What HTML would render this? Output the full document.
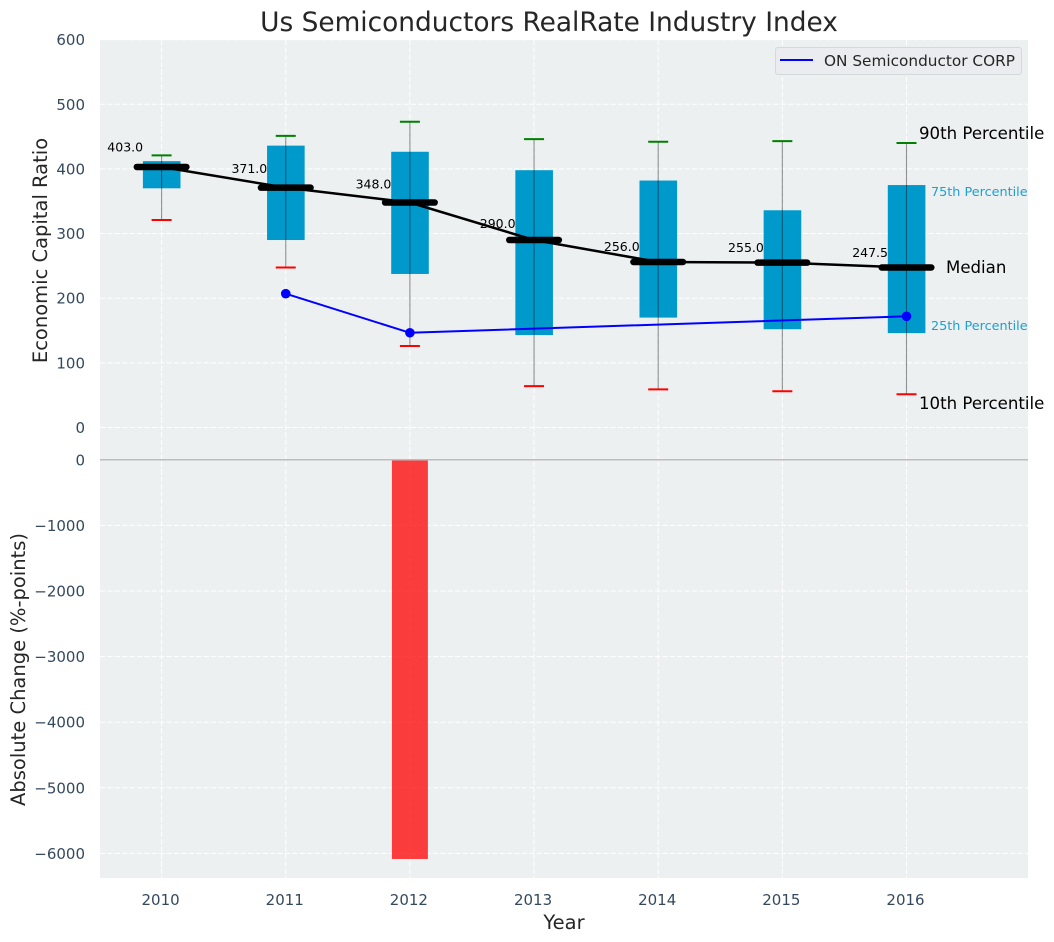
<!DOCTYPE html>
<html lang="en">
<head>
<meta charset="utf-8">
<title>Us Semiconductors RealRate Industry Index</title>
<style>
  html, body { margin: 0; padding: 0; background: #fff; }
  svg { display: block; font-family: "DejaVu Sans", "Liberation Sans", sans-serif; }
  .tick { font-size: 15px; fill: #34495e; }
  .axis-title { font-size: 19.5px; fill: #262626; }
  .median-value { font-size: 12.5px; fill: #000; }
  .big-note { font-size: 16.6px; fill: #000; }
  .small-note { font-size: 12.8px; fill: #1f9fcf; }
</style>
</head>
<body>
<svg id="chart" width="1054" height="942" viewBox="0 0 1054 942" xmlns="http://www.w3.org/2000/svg">
  <rect x="100" y="40" width="928" height="838" fill="#ecf0f1"/>
  <g id="grid"></g>
  <g id="bars"></g>
  <line x1="100" x2="1028" y1="459.8" y2="459.8" stroke="#bdbdbd" stroke-width="1.5"/>
  <g id="boxes"></g>
  <g id="medians"></g>
  <g id="company"></g>
  <g id="ticks"></g>

  <text x="549" y="31" text-anchor="middle" font-size="26.4" fill="#262626">Us Semiconductors RealRate Industry Index</text>
  <text class="axis-title" text-anchor="middle" transform="translate(47 250.5) rotate(-90)">Economic Capital Ratio</text>
  <text class="axis-title" text-anchor="middle" transform="translate(25 669.5) rotate(-90)">Absolute Change (%-points)</text>
  <text class="axis-title" x="564" y="929" text-anchor="middle">Year</text>

  <text class="big-note" x="919" y="139">90th Percentile</text>
  <text class="small-note" x="931" y="196">75th Percentile</text>
  <text class="big-note" x="946" y="273">Median</text>
  <text class="small-note" x="931" y="330">25th Percentile</text>
  <text class="big-note" x="919" y="409">10th Percentile</text>

  <g>
    <rect x="775.5" y="47.5" width="246" height="27" rx="2.5" fill="#eaecf0" stroke="#d5d8dc" stroke-width="1"/>
    <line x1="780" x2="813" y1="60" y2="60" stroke="#0000ff" stroke-width="2"/>
    <text x="824" y="66" font-size="15.3" fill="#262626">ON Semiconductor CORP</text>
  </g>
</svg>
<script>
const years = [2010, 2011, 2012, 2013, 2014, 2015, 2016];
const p90 = [421, 451, 473, 446, 442, 443, 440];
const p75 = [412, 436, 426.5, 398, 382, 336, 375];
const medianValues = [403, 371, 348, 290, 256, 255, 247.5];
const medianLabels = ['403.0', '371.0', '348.0', '290.0', '256.0', '255.0', '247.5'];
const p25 = [370, 290, 237.5, 143, 170, 152, 146];
const p10 = [321, 247.5, 126, 64, 59, 56, 51.5];
const companyValues = [null, 207, 146.5, null, null, null, 172];
const changeValues = [0, 0, -6085, 0, 0, 0, 0];
const topTicks = [0, 100, 200, 300, 400, 500, 600];
const bottomTicks = [0, -1000, -2000, -3000, -4000, -5000, -6000];

const NS = 'http://www.w3.org/2000/svg';
const xScale = function (year) { return 161.6 + 124.15 * (year - 2010); };
const yTop = function (v) { return 427.5 - 0.6465 * v; };
const yBottom = function (v) { return 459.8 - 0.0656 * v; };

function make(parent, tag, attrs) {
  const el = document.createElementNS(NS, tag);
  for (const k in attrs) el.setAttribute(k, attrs[k]);
  parent.appendChild(el);
  return el;
}

const grid = document.getElementById('grid');
const bars = document.getElementById('bars');
const boxes = document.getElementById('boxes');
const medians = document.getElementById('medians');
const company = document.getElementById('company');
const ticks = document.getElementById('ticks');
const gridDash = '5.2 2.2';

/* grid + ticks */
years.forEach(function (year) {
  const gx = make(grid, 'line', { x1: xScale(year), x2: xScale(year), y1: 40, y2: 878, stroke: '#fff', 'stroke-width': 1, 'stroke-dasharray': gridDash });
  
  
  const t = make(ticks, 'text', { x: xScale(year) - 1, y: 905, 'text-anchor': 'middle', class: 'tick' });
  t.textContent = String(year);
  
  
});
topTicks.forEach(function (v) {
  const gy = make(grid, 'line', { x1: 100, x2: 1028, y1: yTop(v), y2: yTop(v), stroke: '#fff', 'stroke-width': 1, 'stroke-dasharray': gridDash });
  
  
  const t = make(ticks, 'text', { x: 85, y: yTop(v) + 5.5, 'text-anchor': 'end', class: 'tick' });
  t.textContent = String(v);
  
  
});
bottomTicks.forEach(function (v) {
  const gy = make(grid, 'line', { x1: 100, x2: 1028, y1: yBottom(v), y2: yBottom(v), stroke: '#fff', 'stroke-width': 1, 'stroke-dasharray': gridDash });
  
  
  const t = make(ticks, 'text', { x: 85, y: yBottom(v) + 5.5, 'text-anchor': 'end', class: 'tick' });
  t.textContent = String(v).replace('-', '\u2212');
  
  
});

/* change bars */
years.forEach(function (year, i) {
  if (!changeValues[i]) return;
  const y0 = yBottom(0);
  const y1 = yBottom(changeValues[i]);
  const bar = make(bars, 'rect', { x: xScale(year) - 18, y: Math.min(y0, y1), width: 36, height: Math.abs(y1 - y0), fill: '#ff0000', 'fill-opacity': 0.75 });
  
  
});

/* boxes, whiskers, caps */
years.forEach(function (year, i) {
  const cx = xScale(year);
  const box = make(boxes, 'rect', { x: cx - 18.7, y: yTop(p75[i]), width: 37.6, height: yTop(p25[i]) - yTop(p75[i]), fill: '#0099cc' });
  
  
  const whisker = make(boxes, 'line', { x1: cx, x2: cx, y1: yTop(p90[i]), y2: yTop(p10[i]), stroke: '#000', 'stroke-opacity': 0.42, 'stroke-width': 1.1 });
  
  
  const capHigh = make(boxes, 'line', { x1: cx - 10, x2: cx + 10, y1: yTop(p90[i]), y2: yTop(p90[i]), stroke: '#008000', 'stroke-width': 2 });
  
  
  const capLow = make(boxes, 'line', { x1: cx - 10, x2: cx + 10, y1: yTop(p10[i]), y2: yTop(p10[i]), stroke: '#ff0000', 'stroke-width': 2 });
  
  
});

/* median series */
const medianLine = make(medians, 'polyline', {
  points: years.map(function (year, i) { return xScale(year) + ',' + yTop(medianValues[i]); }).join(' '),
  fill: 'none', stroke: '#000', 'stroke-width': 2.5
});


years.forEach(function (year, i) {
  const cx = xScale(year);
  const y = yTop(medianValues[i]);
  const seg = make(medians, 'line', { x1: cx - 24.8, x2: cx + 24.8, y1: y, y2: y, stroke: '#000', 'stroke-width': 6.5, 'stroke-linecap': 'round' });
  
  
  const label = make(medians, 'text', { x: cx - 18.5, y: yTop(medianValues[i] * 1.05 + 11) + 4.5, 'text-anchor': 'end', class: 'median-value' });
  label.textContent = medianLabels[i];
  
  
});

/* company series */
const companyPoints = [];
years.forEach(function (year, i) {
  if (companyValues[i] !== null) companyPoints.push([xScale(year), yTop(companyValues[i])]);
});
const companyLine = make(company, 'polyline', {
  points: companyPoints.map(function (p) { return p[0] + ',' + p[1]; }).join(' '),
  fill: 'none', stroke: '#0000ff', 'stroke-width': 2
});


companyPoints.forEach(function (p) {
  const dot = make(company, 'circle', { cx: p[0], cy: p[1], r: 4.8, fill: '#0000ff' });
  
  
});
</script>
</body>
</html>
